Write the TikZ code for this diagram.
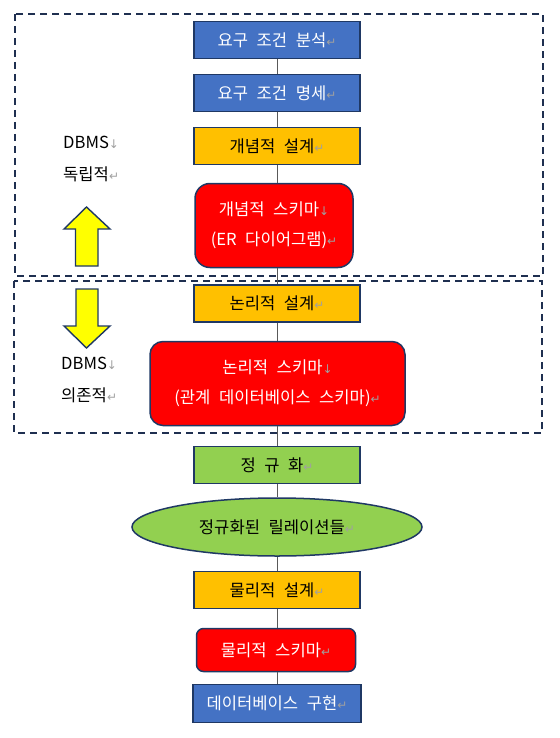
\documentclass[tikz,border=0pt]{standalone}
\usepackage{fontspec}
\usetikzlibrary{shapes.geometric}
\newfontfamily\kr[WordSpace=2.3]{Noto Sans CJK KR}
\newfontfamily\dv{DejaVu Sans}
\definecolor{navy}{HTML}{1F3864}
\definecolor{dashnavy}{HTML}{1F2F50}
\definecolor{cblue}{HTML}{4472C4}
\definecolor{corange}{HTML}{FFC000}
\definecolor{cred}{HTML}{FF0000}
\definecolor{cgreen}{HTML}{92D050}
\definecolor{cyellow}{HTML}{FFFF00}
\definecolor{markgray}{HTML}{A0A0A0}
\newcommand{\retmark}{{\dv\fontsize{12}{12}\selectfont\color{markgray}↵}}
\newcommand{\dnmark}{{\dv\fontsize{12}{12}\selectfont\color{markgray}↓}}
\begin{document}
\begin{tikzpicture}[x=1pt,y=-1pt,
  boxsty/.style={draw=navy,line width=1.5pt,minimum width=166pt,minimum height=37pt,inner sep=0pt,align=center,font=\kr\fontsize{16.6}{30}\selectfont},
  bluebox/.style={boxsty,fill=cblue,text=white},
  orangebox/.style={boxsty,fill=corange,text=black},
  greenbox/.style={boxsty,fill=cgreen,text=black},
  redbox/.style={boxsty,fill=cred,text=white},
  ellsty/.style={ellipse,draw=navy,line width=1.5pt,fill=cgreen,minimum width=290pt,minimum height=58pt,inner sep=0pt,font=\kr\fontsize{16.6}{30}\selectfont},
  framesty/.style={draw=dashnavy,line width=1.6pt,dash pattern=on 7pt off 5pt},
  arrowsty/.style={draw=navy,line width=1.4pt,fill=cyellow,line join=miter},
  conn/.style={draw=black!65,line width=0.9pt},
  lbl/.style={align=left,inner sep=0pt,font=\kr\fontsize{16.6}{32}\selectfont}]
\useasboundingbox (0,0) rectangle (559,738);
% dashed frames
\draw[framesty] (15,14) rectangle (543,276);
\draw[framesty] (14,281) rectangle (542,433);
% boxes
\node[bluebox] (b1) at (277,40) {요구 조건 분석\retmark};
\node[bluebox] (b2) at (277,93) {요구 조건 명세\retmark};
\node[orangebox] (b3) at (277,146) {개념적 설계\retmark};
\node[redbox,minimum width=158pt,minimum height=84pt,rounded corners=15pt] (r1) at (274,225.5) {개념적 스키마\dnmark\\(ER 다이어그램)\retmark};
\node[orangebox] (b4) at (277,303.5) {논리적 설계\retmark};
\node[redbox,minimum width=255pt,minimum height=84pt,rounded corners=13pt] (r2) at (277.5,383.5) {논리적 스키마\dnmark\\(관계 데이터베이스 스키마)\retmark};
\node[greenbox] (g1) at (277,465) {정 규 화\retmark};
\node[ellsty] (e1) at (277,527) {정규화된 릴레이션들\retmark};
\node[orangebox] (b5) at (277,590) {물리적 설계\retmark};
\node[redbox,minimum width=159pt,minimum height=43pt,rounded corners=7pt] (r3) at (276,650) {물리적 스키마\retmark};
\node[bluebox,minimum width=168pt,minimum height=38pt] (b6) at (277,703.5) {데이터베이스 구현\retmark};
% connectors
\draw[conn] (b1.south) -- (b1.south |- b2.north);
\draw[conn] (b2.south) -- (b2.south |- b3.north);
\draw[conn] (b3.south) -- (b3.south |- r1.north);
\draw[conn] (r1.south -| b3.south) -- (b3.south |- b4.north);
\draw[conn] (b4.south) -- (b4.south |- r2.north);
\draw[conn] (r2.south -| g1.north) -- (g1.north);
\draw[conn] (g1.south) -- (e1.north);
\draw[conn] (e1.south) -- (b5.north);
\draw[conn] (b5.south) -- (b5.south |- r3.north);
\draw[conn] (r3.south -| b6.north) -- (b6.north);
% side labels
\node[lbl,anchor=west] (l1) at (63,159) {DBMS\dnmark\\독립적\retmark};
\node[lbl,anchor=west] (l2) at (61,379.5) {DBMS\dnmark\\의존적\retmark};
% block arrows
\draw[arrowsty] (86.5,207) -- (110,229) -- (98,229) -- (98,266) -- (75.5,266) -- (75.5,229) -- (64,229) -- cycle;
\draw[arrowsty] (76,289) -- (98,289) -- (98,326) -- (110,326) -- (86.5,348) -- (64,326) -- (76,326) -- cycle;
\end{tikzpicture}
\end{document}
